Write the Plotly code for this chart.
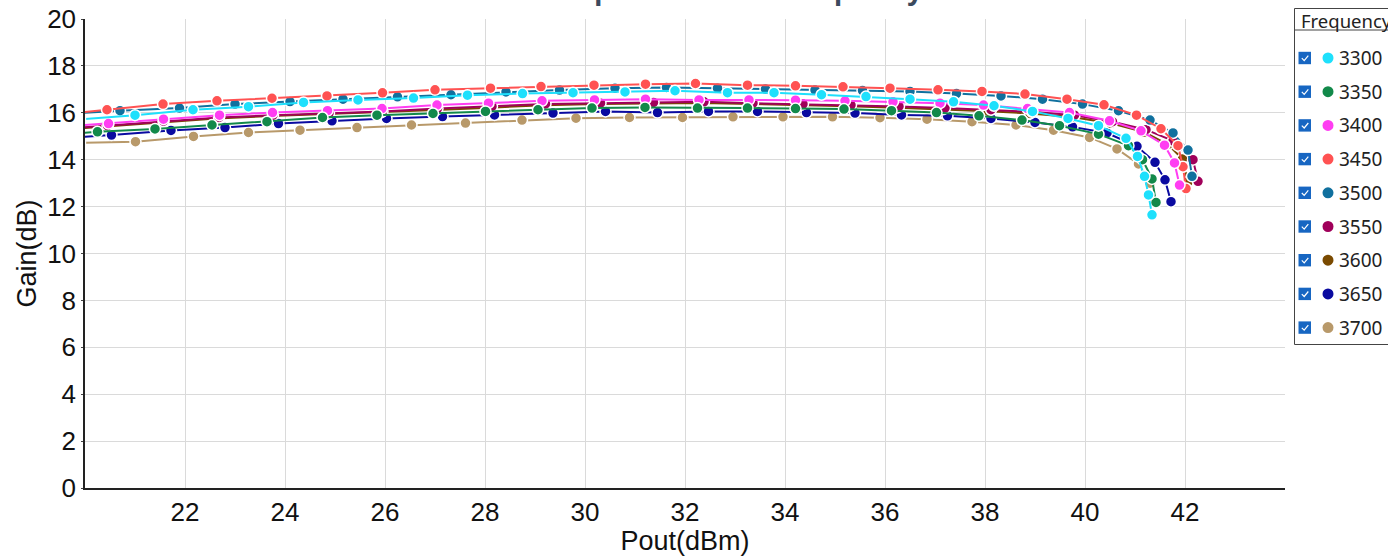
import plotly.graph_objects as go

# ---------------- data ----------------
frequencies = ["3300", "3350", "3400", "3450", "3500", "3550", "3600", "3650", "3700"]
colors = ["#1EE0FC", "#12894A", "#FF3DF2", "#FF5252", "#10709E", "#A0005A", "#7A4A00", "#0A0AA0", "#B8996A"]

pout_3300 = [19.90, 21.00, 22.16, 23.27, 24.37, 25.46, 26.57, 27.65, 28.75, 29.76, 30.80, 31.80, 32.85, 33.78, 34.73, 35.62, 36.50, 37.37, 38.18, 38.95, 39.66, 40.27, 40.82, 41.05, 41.19, 41.27, 41.34]
gain_3300 = [15.72, 15.90, 16.13, 16.26, 16.44, 16.55, 16.63, 16.75, 16.82, 16.86, 16.89, 16.94, 16.86, 16.86, 16.77, 16.69, 16.58, 16.47, 16.30, 16.06, 15.76, 15.45, 14.91, 14.14, 13.29, 12.50, 11.65]

pout_3350 = [19.10, 20.25, 21.40, 22.54, 23.64, 24.75, 25.84, 26.96, 28.01, 29.06, 30.14, 31.20, 32.25, 33.25, 34.21, 35.18, 36.13, 37.03, 37.88, 38.74, 39.49, 40.27, 40.87, 41.15, 41.34, 41.42]
gain_3350 = [15.02, 15.19, 15.31, 15.48, 15.62, 15.80, 15.90, 15.97, 16.06, 16.13, 16.20, 16.23, 16.20, 16.20, 16.18, 16.16, 16.09, 16.01, 15.87, 15.69, 15.45, 15.09, 14.60, 14.00, 13.18, 12.18]

pout_3400 = [19.40, 20.47, 21.57, 22.69, 23.75, 24.85, 25.94, 27.04, 28.07, 29.14, 30.19, 31.21, 32.28, 33.28, 34.21, 35.20, 36.16, 37.10, 37.97, 38.85, 39.69, 40.49, 41.12, 41.59, 41.79, 41.89]
gain_3400 = [15.38, 15.54, 15.73, 15.90, 16.01, 16.09, 16.18, 16.33, 16.41, 16.51, 16.55, 16.58, 16.55, 16.55, 16.54, 16.51, 16.47, 16.41, 16.33, 16.18, 16.01, 15.66, 15.23, 14.62, 13.86, 12.92]

pout_3450 = [19.35, 20.44, 21.56, 22.64, 23.74, 24.84, 25.95, 27.00, 28.11, 29.12, 30.18, 31.21, 32.21, 33.25, 34.21, 35.16, 36.10, 37.06, 37.94, 38.80, 39.64, 40.38, 41.03, 41.52, 41.86, 41.96, 42.02]
gain_3450 = [15.90, 16.13, 16.37, 16.51, 16.62, 16.72, 16.85, 16.98, 17.05, 17.12, 17.18, 17.22, 17.25, 17.18, 17.15, 17.11, 17.05, 16.98, 16.91, 16.80, 16.58, 16.34, 15.90, 15.32, 14.60, 13.70, 12.77]

pout_3500 = [19.55, 20.70, 21.89, 23.00, 24.10, 25.16, 26.25, 27.32, 28.42, 29.49, 30.60, 31.63, 32.65, 33.61, 34.60, 35.55, 36.50, 37.43, 38.32, 39.15, 39.95, 40.67, 41.30, 41.76, 42.06, 42.14]
gain_3500 = [15.95, 16.09, 16.20, 16.37, 16.48, 16.58, 16.68, 16.77, 16.89, 16.97, 17.05, 17.08, 17.05, 17.01, 16.97, 16.95, 16.91, 16.82, 16.72, 16.58, 16.37, 16.09, 15.69, 15.14, 14.41, 13.29]

pout_3550 = [19.35, 20.45, 21.57, 22.68, 23.76, 24.88, 25.95, 27.05, 28.14, 29.21, 30.31, 31.37, 32.38, 33.36, 34.36, 35.32, 36.28, 37.20, 38.12, 38.94, 39.79, 40.55, 41.22, 41.76, 42.16, 42.26]
gain_3550 = [15.28, 15.45, 15.64, 15.80, 15.90, 15.98, 16.06, 16.18, 16.27, 16.38, 16.41, 16.44, 16.47, 16.41, 16.37, 16.33, 16.27, 16.20, 16.13, 16.04, 15.90, 15.62, 15.28, 14.80, 14.00, 13.08]

pout_3600 = [19.30, 20.40, 21.52, 22.63, 23.72, 24.82, 25.92, 27.02, 28.10, 29.18, 30.26, 31.32, 32.34, 33.32, 34.32, 35.28, 36.24, 37.16, 38.06, 38.90, 39.74, 40.52, 41.18, 41.66, 41.95, 42.06]
gain_3600 = [15.25, 15.42, 15.60, 15.76, 15.86, 15.94, 16.02, 16.12, 16.22, 16.32, 16.37, 16.40, 16.42, 16.38, 16.34, 16.28, 16.22, 16.15, 16.07, 15.97, 15.82, 15.55, 15.18, 14.65, 14.03, 13.05]

pout_3650 = [19.40, 20.53, 21.72, 22.80, 23.87, 24.94, 26.03, 27.15, 28.19, 29.36, 30.41, 31.45, 32.47, 33.45, 34.43, 35.40, 36.33, 37.25, 38.12, 39.00, 39.75, 40.44, 41.04, 41.40, 41.60, 41.72]
gain_3650 = [14.90, 15.05, 15.25, 15.37, 15.54, 15.66, 15.76, 15.84, 15.91, 15.99, 16.06, 16.01, 16.06, 16.06, 16.01, 15.99, 15.91, 15.87, 15.76, 15.59, 15.40, 15.14, 14.57, 13.89, 13.14, 12.21]

pout_3700 = [19.90, 21.01, 22.17, 23.27, 24.30, 25.44, 26.53, 27.61, 28.74, 29.82, 30.89, 31.95, 32.96, 33.96, 34.95, 35.90, 36.84, 37.74, 38.62, 39.37, 40.09, 40.64, 41.07, 41.30]
gain_3700 = [14.72, 14.77, 14.99, 15.16, 15.26, 15.37, 15.48, 15.56, 15.69, 15.77, 15.80, 15.80, 15.83, 15.83, 15.83, 15.79, 15.73, 15.62, 15.48, 15.26, 14.95, 14.46, 13.82, 13.00]

pout_series = [pout_3300, pout_3350, pout_3400, pout_3450, pout_3500, pout_3550, pout_3600, pout_3650, pout_3700]
gain_series = [gain_3300, gain_3350, gain_3400, gain_3450, gain_3500, gain_3550, gain_3600, gain_3650, gain_3700]

x_tickvals = [20, 22, 24, 26, 28, 30, 32, 34, 36, 38, 40, 42, 44]
x_ticktext = ["", "22", "24", "26", "28", "30", "32", "34", "36", "38", "40", "42", ""]
y_tickvals = [0, 2, 4, 6, 8, 10, 12, 14, 16, 18, 20]

title_text = "Gain Compression over Frequency"
legend_title = "Frequency"

# ---------------- figure ----------------
W, H = 1388, 556
PL, PR, PT, PB = 85, 1285, 19, 488

def fx(px):
    return (px - PL) / (PR - PL)

def fy(py):
    return (PB - py) / (PB - PT)

fig = go.Figure()
for i in reversed(range(len(frequencies))):
    fig.add_trace(go.Scatter(
        x=pout_series[i], y=gain_series[i], name=frequencies[i],
        mode="lines+markers",
        line=dict(color=colors[i], width=2),
        marker=dict(color=colors[i], size=11, line=dict(color="white", width=1.5)),
        showlegend=False,
    ))

axis_font = dict(family="Liberation Sans, Arial, sans-serif", size=26, color="#111")
title_font = dict(family="Liberation Sans, Arial, sans-serif", size=27, color="#111")
fig.update_xaxes(
    range=[20, 44], tickvals=x_tickvals, ticktext=x_ticktext,
    showgrid=True, gridcolor="#DADADA", gridwidth=1,
    showline=True, linecolor="#222", linewidth=1.5,
    ticks="", tickfont=axis_font, zeroline=False, automargin=False,
    title=dict(text="Pout(dBm)", font=title_font, standoff=9),
)
fig.update_yaxes(
    range=[0, 20], tickvals=y_tickvals,
    showgrid=True, gridcolor="#DADADA", gridwidth=1,
    showline=True, linecolor="#222", linewidth=1.5,
    ticks="outside", ticklen=2, tickcolor="#444",
    tickfont=axis_font, zeroline=False, automargin=False,
    title=dict(text="Gain(dB)", font=title_font, standoff=3),
)

shapes = []
annotations = []

# legend box
shapes.append(dict(type="rect", xref="paper", yref="paper",
                   x0=fx(1294.5), x1=fx(1420), y0=fy(344.5), y1=fy(8.5),
                   line=dict(color="#444", width=1), fillcolor="rgba(0,0,0,0)", layer="above"))
shapes.append(dict(type="line", xref="paper", yref="paper",
                   x0=fx(1294.5), x1=fx(1420), y0=fy(30), y1=fy(30),
                   line=dict(color="#444", width=1), layer="above"))
annotations.append(dict(text=legend_title, xref="paper", yref="paper",
                        x=fx(1299), y=fy(20), xanchor="left", yanchor="middle",
                        showarrow=False, font=dict(family="Noto Sans, sans-serif", size=18.5, color="#222")))

for i, f in enumerate(frequencies):
    cy = 58 + i * 33.7
    shapes.append(dict(type="rect", xref="paper", yref="paper",
                       x0=fx(1298.5), x1=fx(1311), y0=fy(cy + 6.2), y1=fy(cy - 6.2),
                       line=dict(width=0), fillcolor="#1766C2", layer="above"))
    shapes.append(dict(type="path", xref="paper", yref="paper",
                       path=f"M {fx(1301.8)} {fy(cy + 0.2)} L {fx(1304.2)} {fy(cy + 2.6)} L {fx(1308.3)} {fy(cy - 2.4)}",
                       line=dict(color="white", width=1.2), layer="above"))
    shapes.append(dict(type="circle", xref="paper", yref="paper",
                       x0=fx(1322.5), x1=fx(1333.5), y0=fy(cy + 5.5), y1=fy(cy - 5.5),
                       line=dict(width=0), fillcolor=colors[i], layer="above"))
    annotations.append(dict(text=f, xref="paper", yref="paper",
                            x=fx(1337), y=fy(cy), xanchor="left", yanchor="middle",
                            showarrow=False, font=dict(family="Noto Sans, sans-serif", size=19, color="#222")))

fig.update_layout(
    width=W, height=H,
    margin=dict(l=PL, r=W - PR, t=PT, b=H - PB, pad=0, autoexpand=False),
    plot_bgcolor="white", paper_bgcolor="white",
    title=dict(text=title_text, x=0.5, xref="container", xanchor="center",
               y=1.0, yref="container", yanchor="bottom",
               font=dict(family="Noto Sans, sans-serif", size=27, color="#3C4A5E", weight="bold")),
    shapes=shapes, annotations=annotations,
    showlegend=False,
)

fig.write_html("out.html")
